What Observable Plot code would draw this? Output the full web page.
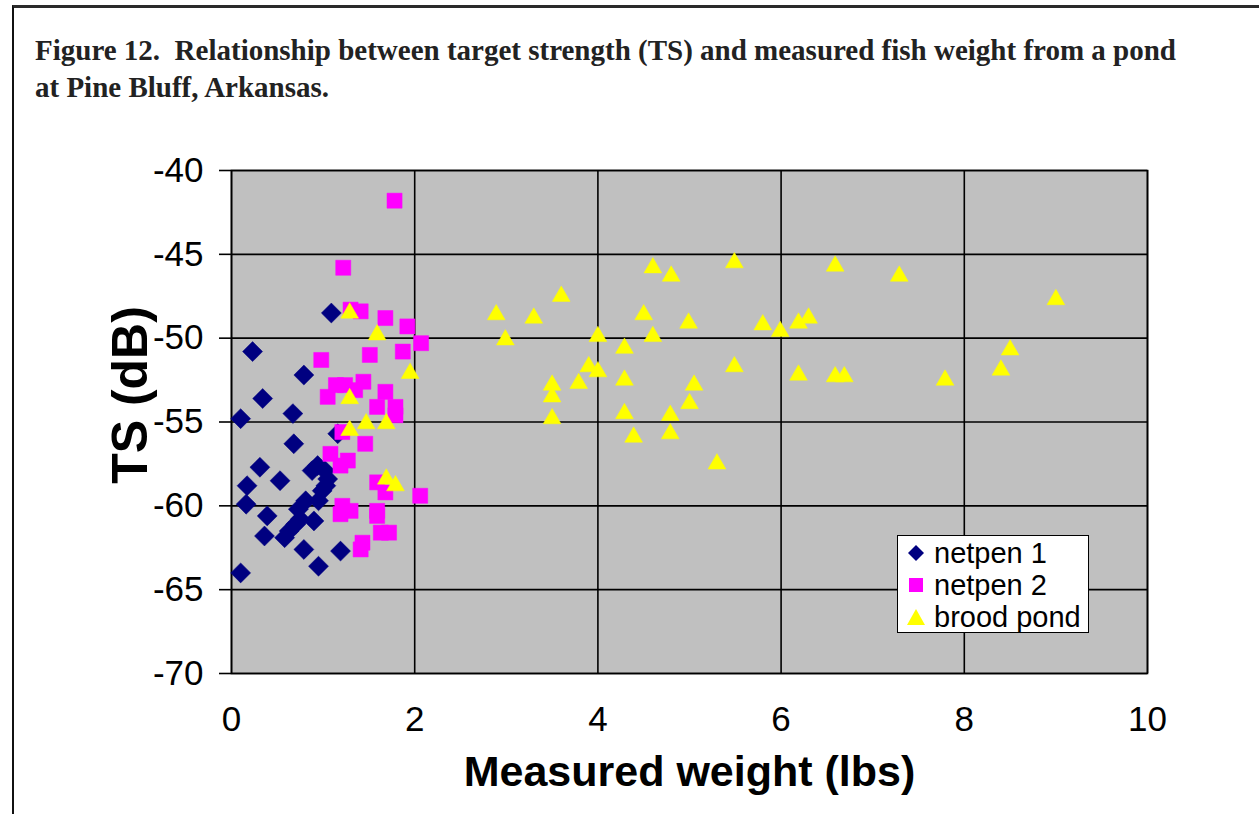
<!DOCTYPE html>
<html>
<head>
<meta charset="utf-8">
<script src="https://cdn.jsdelivr.net/npm/d3@7"></script>
<script src="https://cdn.jsdelivr.net/npm/@observablehq/plot@0.6"></script>
<style>
  html, body { margin: 0; padding: 0; background: #fff; }
  body { width: 1259px; height: 814px; position: relative; overflow: hidden; }
  #frame { position: absolute; left: 12px; top: 5px; right: -5px; bottom: -5px;
           border-top: 3px solid #2a2a2a; border-left: 2px solid #111; }
  #title { position: absolute; left: 35px; top: 32px; width: 1220px;
           font-family: "Liberation Serif", "DejaVu Serif", serif; font-weight: bold;
           font-size: 29px; line-height: 37px; color: #222; white-space: nowrap; }
  #chart { position: absolute; left: 0; top: 125px; }
  #legend { position: absolute; left: 897px; top: 535px; width: 190px; height: 96px;
            background: #fff; border: 1px solid #000;
            font-family: "Liberation Sans", Arial, sans-serif; font-size: 29px; color: #000; }
  .li { position: absolute; left: 8px; height: 32px; display: flex; align-items: center; white-space: nowrap; }
  .li svg { margin-right: 8px; }
</style>
</head>
<body>
<div id="frame"></div>
<div id="title">Figure 12.&nbsp; Relationship between target strength (TS) and measured fish weight from a pond<br>at Pine Bluff, Arkansas.</div>
<div id="chart"></div>
<div id="legend">
  <div class="li" style="top:1px"><svg width="20" height="20" viewBox="-10 -10 20 20"><path d="M0,-8L8,0L0,8L-8,0Z" fill="#000080"/></svg>netpen 1</div>
  <div class="li" style="top:33px"><svg width="20" height="20" viewBox="-10 -10 20 20"><rect x="-7" y="-7" width="14" height="14" fill="#FF00FF"/></svg>netpen 2</div>
  <div class="li" style="top:65px"><svg width="20" height="20" viewBox="-10 -10 20 20"><path d="M0,-8L9,8L-9,8Z" fill="#FFFF00"/></svg>brood pond</div>
</div>
<script>
// ---- data ----
const seriesNames = ["netpen 1", "netpen 2", "brood pond"];
const xTicks = [0, 2, 4, 6, 8, 10];
const yTicks = [-70, -65, -60, -55, -50, -45, -40];
const xTitle = "Measured weight (lbs)";
const yTitle = "TS (dB)";

const netpen1X = [0.10, 0.23, 0.34, 0.31, 0.17, 0.16, 0.39, 0.36, 0.10, 0.53, 0.58, 0.68, 0.67, 0.79, 1.09, 1.16,
  0.79, 0.95, 1.19, 0.94, 1.02, 1.05, 0.99, 0.95, 0.81, 0.73, 0.75, 0.70, 0.63, 0.90, 0.88, 1.03];
const netpen1Y = [-54.8, -50.8, -53.6, -57.7, -58.8, -59.9, -60.6, -61.8, -64.0, -58.5, -61.9, -56.3, -54.5, -52.2, -48.5, -55.7,
  -62.6, -63.6, -62.7, -57.6, -57.9, -58.4, -59.1, -59.7, -59.7, -60.2, -60.8, -61.1, -61.5, -60.9, -57.9, -58.8];

const netpen2X = [1.78, 1.22, 1.30, 1.41, 1.68, 1.92, 2.07, 1.87, 1.51, 0.98, 1.14, 1.24, 1.44, 1.35, 1.05, 1.68,
  1.59, 1.79, 1.79, 1.21, 1.46, 1.08, 1.27, 1.19, 1.59, 1.68, 2.06, 1.21, 1.30, 1.59, 1.19, 1.59, 1.63, 1.72, 1.43, 1.41];
const netpen2Y = [-41.8, -45.8, -48.3, -48.4, -48.8, -49.3, -50.3, -50.8, -51.0, -51.3, -52.8, -52.8, -52.6, -53.1, -53.5, -53.2,
  -54.1, -54.1, -54.6, -55.6, -56.3, -56.9, -57.3, -57.6, -58.6, -59.2, -59.4, -60.0, -60.3, -60.3, -60.5, -60.6, -61.6, -61.6, -62.2, -62.6];

const broodX = [1.29, 1.59, 1.95, 1.29, 1.47, 1.69, 1.29, 1.69, 1.79,
  2.89, 3.30, 2.99, 3.60, 3.50, 3.50, 3.50, 3.79, 3.90, 4.00, 4.00, 4.29, 4.29, 4.29, 4.39, 4.50, 4.60, 4.60, 4.80,
  4.79, 4.79, 4.99, 5.00, 5.05, 5.30, 5.49, 5.49, 5.80, 5.99, 6.19, 6.19, 6.30, 6.59, 6.59, 6.69, 7.29, 7.79, 8.40, 8.50, 9.00];
const broodY = [-48.5, -49.8, -52.1, -53.6, -55.1, -55.1, -55.5, -58.4, -58.8,
  -48.6, -48.8, -50.1, -47.5, -52.8, -53.5, -54.8, -52.7, -51.7, -49.9, -52.0, -50.6, -52.5, -54.5, -55.9, -48.6, -45.8, -49.9, -46.3,
  -54.6, -55.7, -49.1, -53.9, -52.8, -57.5, -45.5, -51.7, -49.2, -49.6, -49.1, -52.2, -48.8, -45.7, -52.3, -52.3, -46.3, -52.5, -51.9, -50.7, -47.7];

const colors = ["#000080", "#FF00FF", "#FFFF00"];
const symbols = ["diamond2", "square", "triangle"];

// ---- build tables ----
const n1 = netpen1X.map((x, i) => ({x, y: netpen1Y[i], s: seriesNames[0]}));
const n2 = netpen2X.map((x, i) => ({x, y: netpen2Y[i], s: seriesNames[1]}));
const bp = broodX.map((x, i) => ({x, y: broodY[i], s: seriesNames[2]}));

const fmt = d => String(d);
const chart = Plot.plot({
  width: 1259,
  height: 689,
  marginLeft: 231,
  marginRight: 112,
  marginTop: 45,
  marginBottom: 141,
  x: {domain: [0, 10]},
  y: {domain: [-70, -40]},
  style: {fontFamily: "'Liberation Sans', Arial, sans-serif", background: "transparent", overflow: "visible", color: "#000"},
  marks: [
    Plot.frame({fill: "#C0C0C0"}),
    Plot.gridX(xTicks, {stroke: "#000", strokeOpacity: 1, strokeWidth: 1.6}),
    Plot.gridY(yTicks, {stroke: "#000", strokeOpacity: 1, strokeWidth: 1.6}),
    Plot.frame({stroke: "#000", strokeWidth: 1.6}),
    Plot.axisX(xTicks, {tickSize: 0, tickPadding: 33, fontSize: 35, tickFormat: fmt, label: null}),
    Plot.axisY(yTicks, {tickSize: 12, tickPadding: 16, fontSize: 35, tickFormat: fmt, label: null, strokeWidth: 1.6}),
    Plot.dot(n1, {x: "x", y: "y", symbol: symbols[0], r: 9, fill: colors[0], stroke: colors[0], strokeWidth: 0.5}),
    Plot.dot(n2, {x: "x", y: "y", symbol: symbols[1], r: 8.5, fill: colors[1], stroke: colors[1], strokeWidth: 0.5}),
    Plot.dot(bp, {x: "x", y: "y", symbol: symbols[2], r: 6.6, fill: colors[2], stroke: colors[2], strokeWidth: 0.5}),
    Plot.text([xTitle], {frameAnchor: "bottom", dy: 99, fontSize: 43, fontWeight: "bold", lineAnchor: "middle"}),
    Plot.text([yTitle], {frameAnchor: "left", dx: -101, dy: -27, rotate: -90, textAnchor: "middle", fontSize: 50, fontWeight: "bold", lineAnchor: "middle"})
  ]
});
document.getElementById("chart").appendChild(chart);
</script>
</body>
</html>
